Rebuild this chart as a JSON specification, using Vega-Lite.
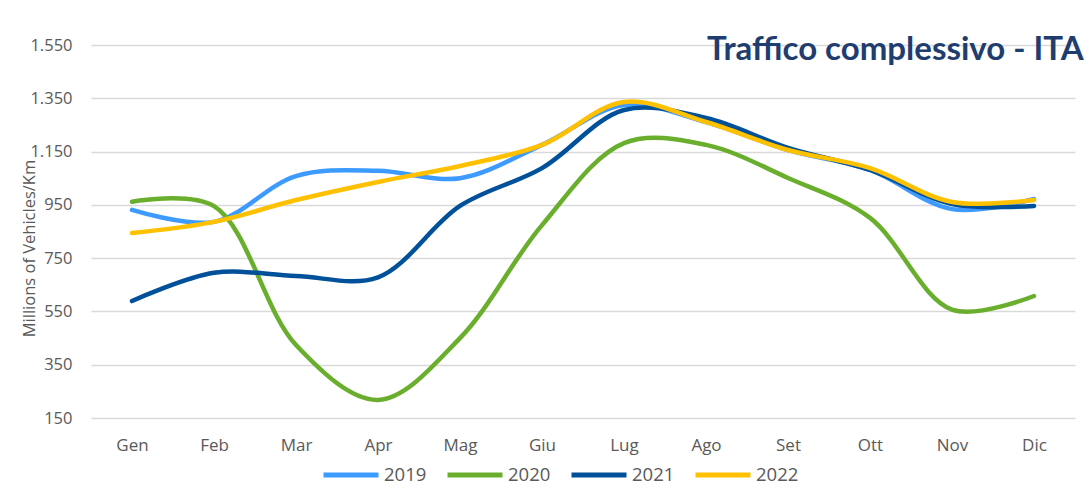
{
  "$schema": "https://vega.github.io/schema/vega-lite/v6.json",
  "width": 984,
  "height": 373,
  "autosize": {"type": "none"},
  "padding": {"left": 91, "top": 45, "right": 17, "bottom": 72},
  "background": "white",
  "config": {
    "locale": {"number": {"decimal": ",", "thousands": ".", "grouping": [3], "currency": ["€", ""]}},
    "view": {"stroke": null},
    "font": "Open Sans"
  },
  "title": {
    "text": "Traffico complessivo - ITA",
    "anchor": "start",
    "frame": "group",
    "orient": "top",
    "offset": 0,
    "baseline": "alphabetic",
    "dx": 616,
    "dy": 56,
    "font": "Lato",
    "fontSize": 33,
    "fontWeight": "bold",
    "color": "#1F3D6E"
  },
  "data": {
    "values": [
      {"month": "Gen", "year": "2019", "value": 931},
      {"month": "Feb", "year": "2019", "value": 886},
      {"month": "Mar", "year": "2019", "value": 1058},
      {"month": "Apr", "year": "2019", "value": 1078},
      {"month": "Mag", "year": "2019", "value": 1050},
      {"month": "Giu", "year": "2019", "value": 1175},
      {"month": "Lug", "year": "2019", "value": 1325},
      {"month": "Ago", "year": "2019", "value": 1261},
      {"month": "Set", "year": "2019", "value": 1156},
      {"month": "Ott", "year": "2019", "value": 1081},
      {"month": "Nov", "year": "2019", "value": 934},
      {"month": "Dic", "year": "2019", "value": 972},
      {"month": "Gen", "year": "2020", "value": 962},
      {"month": "Feb", "year": "2020", "value": 945},
      {"month": "Mar", "year": "2020", "value": 424},
      {"month": "Apr", "year": "2020", "value": 218},
      {"month": "Mag", "year": "2020", "value": 450},
      {"month": "Giu", "year": "2020", "value": 874},
      {"month": "Lug", "year": "2020", "value": 1182},
      {"month": "Ago", "year": "2020", "value": 1175},
      {"month": "Set", "year": "2020", "value": 1051},
      {"month": "Ott", "year": "2020", "value": 901},
      {"month": "Nov", "year": "2020", "value": 557},
      {"month": "Dic", "year": "2020", "value": 608},
      {"month": "Gen", "year": "2021", "value": 589},
      {"month": "Feb", "year": "2021", "value": 695},
      {"month": "Mar", "year": "2021", "value": 683},
      {"month": "Apr", "year": "2021", "value": 678},
      {"month": "Mag", "year": "2021", "value": 946},
      {"month": "Giu", "year": "2021", "value": 1088},
      {"month": "Lug", "year": "2021", "value": 1306},
      {"month": "Ago", "year": "2021", "value": 1276},
      {"month": "Set", "year": "2021", "value": 1164},
      {"month": "Ott", "year": "2021", "value": 1081},
      {"month": "Nov", "year": "2021", "value": 953},
      {"month": "Dic", "year": "2021", "value": 946},
      {"month": "Gen", "year": "2022", "value": 844},
      {"month": "Feb", "year": "2022", "value": 886},
      {"month": "Mar", "year": "2022", "value": 968},
      {"month": "Apr", "year": "2022", "value": 1036},
      {"month": "Mag", "year": "2022", "value": 1096},
      {"month": "Giu", "year": "2022", "value": 1175},
      {"month": "Lug", "year": "2022", "value": 1336},
      {"month": "Ago", "year": "2022", "value": 1261},
      {"month": "Set", "year": "2022", "value": 1156},
      {"month": "Ott", "year": "2022", "value": 1088},
      {"month": "Nov", "year": "2022", "value": 961},
      {"month": "Dic", "year": "2022", "value": 968}
    ]
  },
  "mark": {"type": "line", "interpolate": "catmull-rom", "strokeWidth": 4.5, "strokeCap": "round"},
  "encoding": {
    "x": {
      "field": "month",
      "type": "ordinal",
      "sort": ["Gen", "Feb", "Mar", "Apr", "Mag", "Giu", "Lug", "Ago", "Set", "Ott", "Nov", "Dic"],
      "scale": {"type": "point", "padding": 0.5},
      "axis": {
        "title": null,
        "labelAngle": 0,
        "domain": false,
        "ticks": false,
        "labelPadding": 19,
        "labelFontSize": 17,
        "labelColor": "#595959",
        "labelFont": "Open Sans"
      }
    },
    "y": {
      "field": "value",
      "type": "quantitative",
      "scale": {"domain": [150, 1550], "nice": false, "zero": false},
      "axis": {
        "title": "Millions of Vehicles/Km",
        "titleFontSize": 16.5,
        "titleFontWeight": "normal",
        "titleColor": "#595959",
        "titleFont": "Open Sans",
        "titlePadding": -8,
        "titleY": 203,
        "values": [150, 350, 550, 750, 950, 1150, 1350, 1550],
        "format": ",d",
        "domain": false,
        "ticks": false,
        "labelPadding": 19,
        "labelFontSize": 16.5,
        "labelColor": "#595959",
        "labelFont": "Open Sans",
        "gridColor": "#D9D9D9",
        "gridWidth": 1.5
      }
    },
    "color": {
      "field": "year",
      "type": "nominal",
      "scale": {"domain": ["2019", "2020", "2021", "2022"], "range": ["#3D9BFF", "#6AAE2E", "#00509A", "#FFC000"]},
      "legend": {
        "title": null,
        "orient": "none",
        "direction": "horizontal",
        "legendX": 230,
        "legendY": 400,
        "symbolType": "stroke",
        "symbolSize": 3025,
        "symbolStrokeWidth": 5,
        "labelFontSize": 18.5,
        "labelColor": "#595959",
        "labelFont": "Open Sans",
        "labelOffset": 3,
        "columnPadding": 10
      }
    }
  }
}
